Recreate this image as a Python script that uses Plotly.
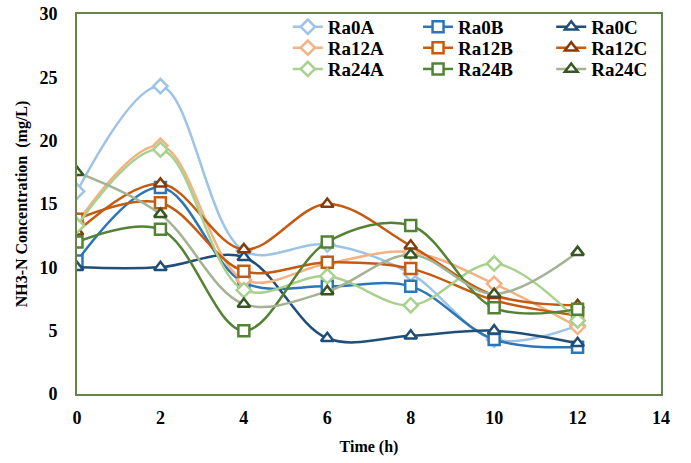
import plotly.graph_objects as go

time_h = [0, 2, 4, 6, 8, 10, 12]

ra0a = [16.0, 24.3, 11.3, 11.8, 9.5, 4.3, 5.4]
ra0b = [10.5, 16.3, 8.8, 8.5, 8.5, 4.3, 3.7]
ra0c = [10.0, 10.0, 10.8, 4.4, 4.6, 5.0, 4.0]
ra12a = [13.5, 19.6, 9.0, 10.3, 11.2, 8.7, 5.3]
ra12b = [13.8, 15.1, 9.7, 10.4, 9.9, 7.4, 6.2]
ra12c = [12.8, 16.6, 11.4, 15.0, 11.7, 7.8, 7.0]
ra24a = [13.3, 19.3, 8.2, 9.3, 7.0, 10.3, 5.8]
ra24b = [12.0, 13.0, 5.0, 12.0, 13.3, 6.8, 6.7]
ra24c = [17.5, 14.2, 7.1, 8.1, 11.0, 7.9, 11.2]

x_ticks = [0, 2, 4, 6, 8, 10, 12, 14]
y_ticks = [0, 5, 10, 15, 20, 25, 30]

# name, values, line colour, marker outline colour, symbol
series = [
    ("Ra0A", ra0a, "#9DC3E6", "#9DC3E6", "diamond"),
    ("Ra0B", ra0b, "#2E75B6", "#2E75B6", "square"),
    ("Ra0C", ra0c, "#1F4E79", "#1F4E79", "triangle-up"),
    ("Ra12A", ra12a, "#F4B183", "#F4B183", "diamond"),
    ("Ra12B", ra12b, "#C55A11", "#C55A11", "square"),
    ("Ra12C", ra12c, "#C55A11", "#843C0C", "triangle-up"),
    ("Ra24A", ra24a, "#A9D18E", "#A9D18E", "diamond"),
    ("Ra24B", ra24b, "#548235", "#548235", "square"),
    ("Ra24C", ra24c, "#A3B393", "#375623", "triangle-up"),
]

font_family = "Liberation Serif"
axis_col = "#64844A"

# legend grid: 3 columns x 3 rows, row-major like the series list
leg_x = [0.361, 0.584, 0.812]
leg_y = [1.016, 0.961, 0.905]

fig = go.Figure()
legend_layout = {}
for i, (name, vals, lc, mc, sym) in enumerate(series):
    leg_name = "legend" if i == 0 else f"legend{i + 1}"
    fig.add_trace(go.Scatter(
        x=time_h, y=vals, name=name, mode="lines+markers",
        line=dict(color=lc, width=2.5, shape="spline", smoothing=1.0),
        marker=dict(symbol=sym, size=11, color="white",
                    line=dict(color=mc, width=2.5)),
        legend=leg_name,
    ))
    legend_layout[leg_name] = dict(
        x=leg_x[i % 3], y=leg_y[i // 3], xanchor="left", yanchor="top",
        font=dict(family=font_family, size=19, color="black", weight="bold"),
        bgcolor="rgba(0,0,0,0)", borderwidth=0,
    )

fig.update_layout(
    width=691, height=463,
    margin=dict(l=77, r=30, t=14, b=69, autoexpand=False),
    paper_bgcolor="white", plot_bgcolor="white",
    font=dict(family=font_family, color="black"),
    showlegend=True,
    xaxis=dict(
        range=[0, 14], tickvals=x_ticks, ticktext=[str(v) for v in x_ticks],
        showgrid=False, zeroline=False,
        showline=True, linecolor=axis_col, linewidth=2, mirror=True,
        ticks="", ticklabelstandoff=6,
        tickfont=dict(family=font_family, size=18, color="black", weight="bold"),
        title=dict(text="Time (h)", standoff=14,
                   font=dict(family=font_family, size=16, color="black", weight="bold")),
    ),
    yaxis=dict(
        range=[0, 30], tickvals=y_ticks, ticktext=[str(v) for v in y_ticks],
        showgrid=False, zeroline=False,
        showline=True, linecolor=axis_col, linewidth=2, mirror=True,
        ticks="", ticklabelstandoff=14,
        tickfont=dict(family=font_family, size=18, color="black", weight="bold"),
        title=dict(text="NH3-N Concentration  (mg/L)", standoff=8,
                   font=dict(family=font_family, size=16, color="black", weight="bold")),
    ),
    **legend_layout,
)

fig.write_html("out.html")
